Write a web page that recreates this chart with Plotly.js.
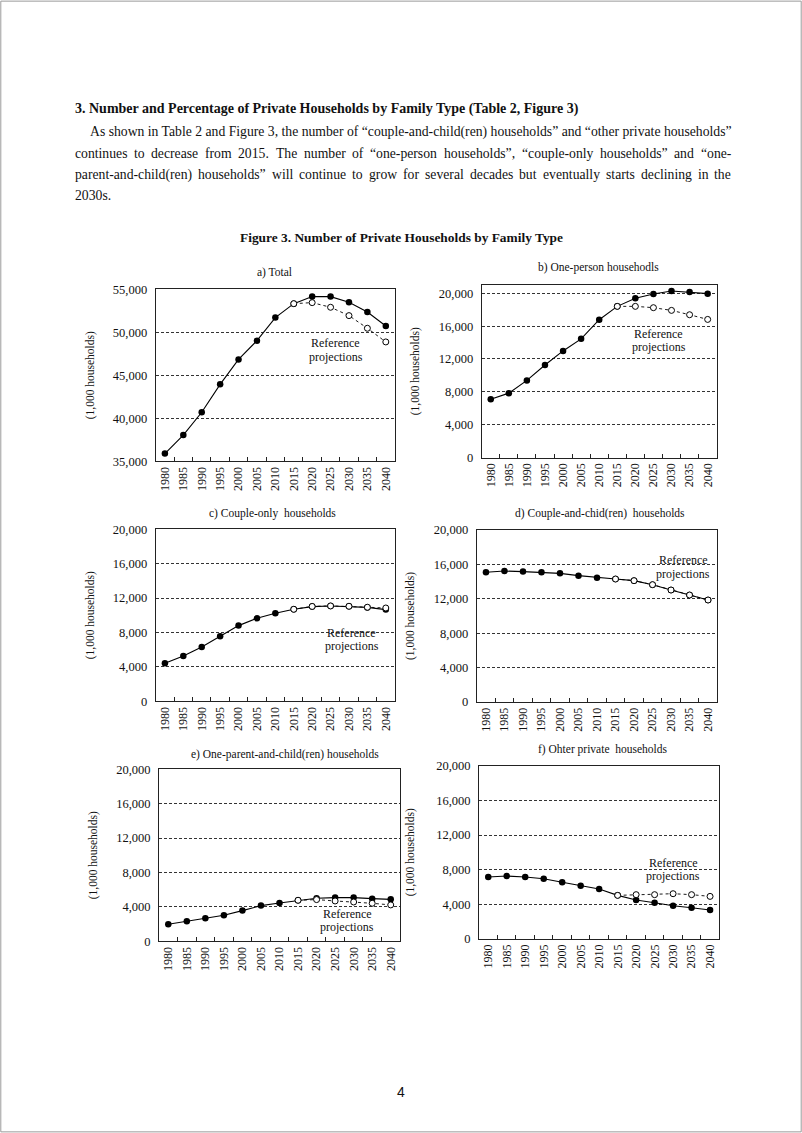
<!DOCTYPE html>
<html>
<head>
<meta charset="utf-8">
<script src="https://cdn.plot.ly/plotly-3.0.1.min.js"></script>
<style>
  body { margin: 0; background: #fff; }
  #fig3 { width: 802px; height: 1133px; }
</style>
</head>
<body>
<div id="fig3"></div>
<script>
var years = ['1980','1985','1990','1995','2000','2005','2010','2015','2020','2025','2030','2035','2040'];
var refYears = years.slice(7);

// (1,000 households)
var totalHH       = [35900, 38050, 40700, 43950, 46850, 49030, 51710, 53330, 54150, 54150, 53490, 52360, 50740];
var totalRef      = [53330, 53450, 52910, 51940, 50470, 48880];

var onePerson     = [7100, 7840, 9390, 11270, 12980, 14450, 16780, 18410, 19390, 19920, 20290, 20160, 19960];
var onePersonRef  = [18410, 18410, 18250, 17920, 17390, 16820];

var coupleOnly    = [4420, 5270, 6320, 7560, 8800, 9650, 10230, 10700, 11010, 11080, 11040, 10920, 10660];
var coupleOnlyRef = [10700, 11030, 11090, 11050, 10940, 10850];

var coupleChild   = [15080, 15230, 15160, 15080, 14960, 14690, 14460, 14300, 14110, 13640, 13020, 12440, 11860];
var coupleChildRef= [14300, 14110, 13640, 13020, 12440, 11860];

var oneParent     = [1980, 2330, 2670, 3020, 3570, 4150, 4460, 4770, 5000, 5080, 5080, 4960, 4880];
var oneParentRef  = [4770, 4850, 4690, 4570, 4420, 4230];

var otherHH       = [7140, 7260, 7140, 6950, 6530, 6140, 5750, 5020, 4480, 4170, 3820, 3590, 3320];
var otherRef      = [5020, 5100, 5100, 5210, 5100, 4900];

var panelTitles = ['a) Total', 'b) One-person househodls', 'c) Couple-only  households',
                   'd) Couple-and-chid(ren)  households', 'e) One-parent-and-child(ren) households',
                   'f) Ohter private  households'];

var W = 802, H = 1133;
function px(p) { return p / W; }
function py(p) { return 1 - p / H; }

var serif = 'Liberation Serif, Times New Roman, serif';

// pixel boxes of each panel: [left, right, top, bottom]
var boxes = [
  [155.7, 395, 289.3, 461.3],
  [481.7, 716.7, 285.1, 457.5],
  [155.7, 395, 529.3, 701.3],
  [476.7, 717.3, 530, 702],
  [159, 400, 769.3, 941.3],
  [479, 719.3, 766, 938.7]
];
var ranges = [[35000, 55000], [0, 21000], [0, 20000], [0, 20000], [0, 20000], [0, 20000]];
var dticks = [5000, 4000, 4000, 4000, 4000, 4000];
var series = [
  [totalHH, totalRef], [onePerson, onePersonRef], [coupleOnly, coupleOnlyRef],
  [coupleChild, coupleChildRef], [oneParent, oneParentRef], [otherHH, otherRef]
];
// panel title centres and y-title x, in page pixels
var titlePos = [[274, 272], [598, 267], [272, 513], [600, 513], [285, 754], [603, 749]];
var yTitleX = [90, 415, 90, 410, 93, 410];
// "Reference projections" label centre, in data units
var refLabel = [[9.27, 47940], [9.3, 14275], [10.15, 7209], [10.67, 15698], [9.66, 2395], [10.0, 8037]];

var data = [];
var layout = {
  width: W, height: H,
  margin: {l: 0, r: 0, t: 0, b: 0},
  paper_bgcolor: '#fff',
  plot_bgcolor: '#fff',
  showlegend: false,
  font: {family: serif, size: 12, color: '#111'},
  annotations: [],
  shapes: [{
    type: 'rect', xref: 'paper', yref: 'paper', x0: 0.001, x1: 0.999, y0: 0.001, y1: 0.999,
    line: {color: '#9a9a9a', width: 1}
  }]
};

for (var i = 0; i < 6; i++) {
  var n = i === 0 ? '' : String(i + 1);
  var b = boxes[i];
  data.push({
    x: years, y: series[i][0], xaxis: 'x' + n, yaxis: 'y' + n,
    type: 'scatter', mode: 'lines+markers', hoverinfo: 'none',
    line: {color: '#000', width: 1.1},
    marker: {color: '#000', size: 6.5}
  });
  data.push({
    x: refYears, y: series[i][1], xaxis: 'x' + n, yaxis: 'y' + n,
    type: 'scatter', mode: 'lines+markers', hoverinfo: 'none',
    line: {color: '#000', width: 0.9, dash: 'dot'},
    marker: {color: '#fff', size: 6, line: {color: '#000', width: 1}}
  });
  layout['xaxis' + n] = {
    domain: [px(b[0]), px(b[1])],
    anchor: 'y' + n,
    type: 'category',
    range: [-0.5, 12.5],
    tickson: 'boundaries',
    ticks: 'inside', ticklen: 4, tickcolor: '#222',
    tickangle: -90,
    tickfont: {family: serif, size: 12, color: '#111'},
    showline: true, mirror: true, linecolor: '#222', linewidth: 1,
    showgrid: false, zeroline: false
  };
  layout['yaxis' + n] = {
    domain: [py(b[3]), py(b[2])],
    anchor: 'x' + n,
    range: ranges[i],
    dtick: dticks[i],
    tick0: 0,
    tickformat: ',d',
    ticks: '',
    ticklabelstandoff: 5,
    tickfont: {family: serif, size: 12.5, color: '#111'},
    showline: true, mirror: true, linecolor: '#222', linewidth: 1,
    showgrid: true, gridcolor: '#333', gridwidth: 1, griddash: '3px,2px',
    zeroline: false
  };
  layout.annotations.push({
    xref: 'paper', yref: 'paper', x: px(titlePos[i][0]), y: py(titlePos[i][1]),
    xanchor: 'center', yanchor: 'middle', showarrow: false,
    text: panelTitles[i], font: {family: serif, size: 11.5, color: '#111'}
  });
  layout.annotations.push({
    xref: 'paper', yref: 'paper', x: px(yTitleX[i]), y: py((b[2] + b[3]) / 2),
    xanchor: 'center', yanchor: 'middle', showarrow: false, textangle: -90,
    text: '(1,000 households)', font: {family: serif, size: 11.5, color: '#111'}
  });
  // two lines, 13.5px apart on the page
  var perPx = (ranges[i][1] - ranges[i][0]) / (b[3] - b[2]);
  ['Reference', 'projections'].forEach(function (word, k) {
    layout.annotations.push({
      xref: 'x' + n, yref: 'y' + n, x: refLabel[i][0],
      y: refLabel[i][1] + (k === 0 ? 1 : -1) * 6.7 * perPx,
      xanchor: 'center', yanchor: 'middle', showarrow: false,
      text: word, font: {family: serif, size: 12, color: '#111'}
    });
  });
}

// page text
var bodySize = 13.7;
var ctx = document.createElement('canvas').getContext('2d');
ctx.font = bodySize + 'px "Liberation Serif"';

function addText(text, x, y, anchor, size, bold) {
  layout.annotations.push({
    xref: 'paper', yref: 'paper', x: px(x), y: py(y),
    xanchor: anchor, yanchor: 'middle', showarrow: false,
    text: bold ? '<b>' + text + '</b>' : text,
    font: {family: serif, size: size, color: '#111'}
  });
}
// justified line: spread words between x0 and x1
function addJustified(text, x0, x1, y) {
  var words = text.split(' ');
  var widths = words.map(function (w) { return ctx.measureText(w).width; });
  var total = widths.reduce(function (a, c) { return a + c; }, 0);
  var gap = (x1 - x0 - total) / (words.length - 1);
  var x = x0;
  words.forEach(function (w, k) {
    addText(w, x, y, 'left', bodySize, false);
    x += widths[k] + gap;
  });
}

addText('3. Number and Percentage of Private Households by Family Type (Table 2, Figure 3)', 73, 109, 'left', 14, true);
addText('As shown in Table 2 and Figure 3, the number of \u201ccouple-and-child(ren) households\u201d and \u201cother private households\u201d', 88, 131.5, 'left', bodySize, false);
addJustified('continues to decrease from 2015. The number of \u201cone-person households\u201d, \u201ccouple-only households\u201d and \u201cone-', 73, 729, 153);
addJustified('parent-and-child(ren) households\u201d will continue to grow for several decades but eventually starts declining in the', 73, 729, 174.5);
addText('2030s.', 73, 196, 'left', bodySize, false);
addText('Figure 3. Number of Private Households by Family Type', 401, 237, 'center', 13.4, true);

layout.annotations.push({
  xref: 'paper', yref: 'paper', x: px(401), y: py(1092),
  xanchor: 'center', yanchor: 'middle', showarrow: false,
  text: '4', font: {family: 'Liberation Sans, Arial, sans-serif', size: 14, color: '#111'}
});

Plotly.newPlot('fig3', data, layout, {displayModeBar: false, staticPlot: true});
</script>
</body>
</html>
